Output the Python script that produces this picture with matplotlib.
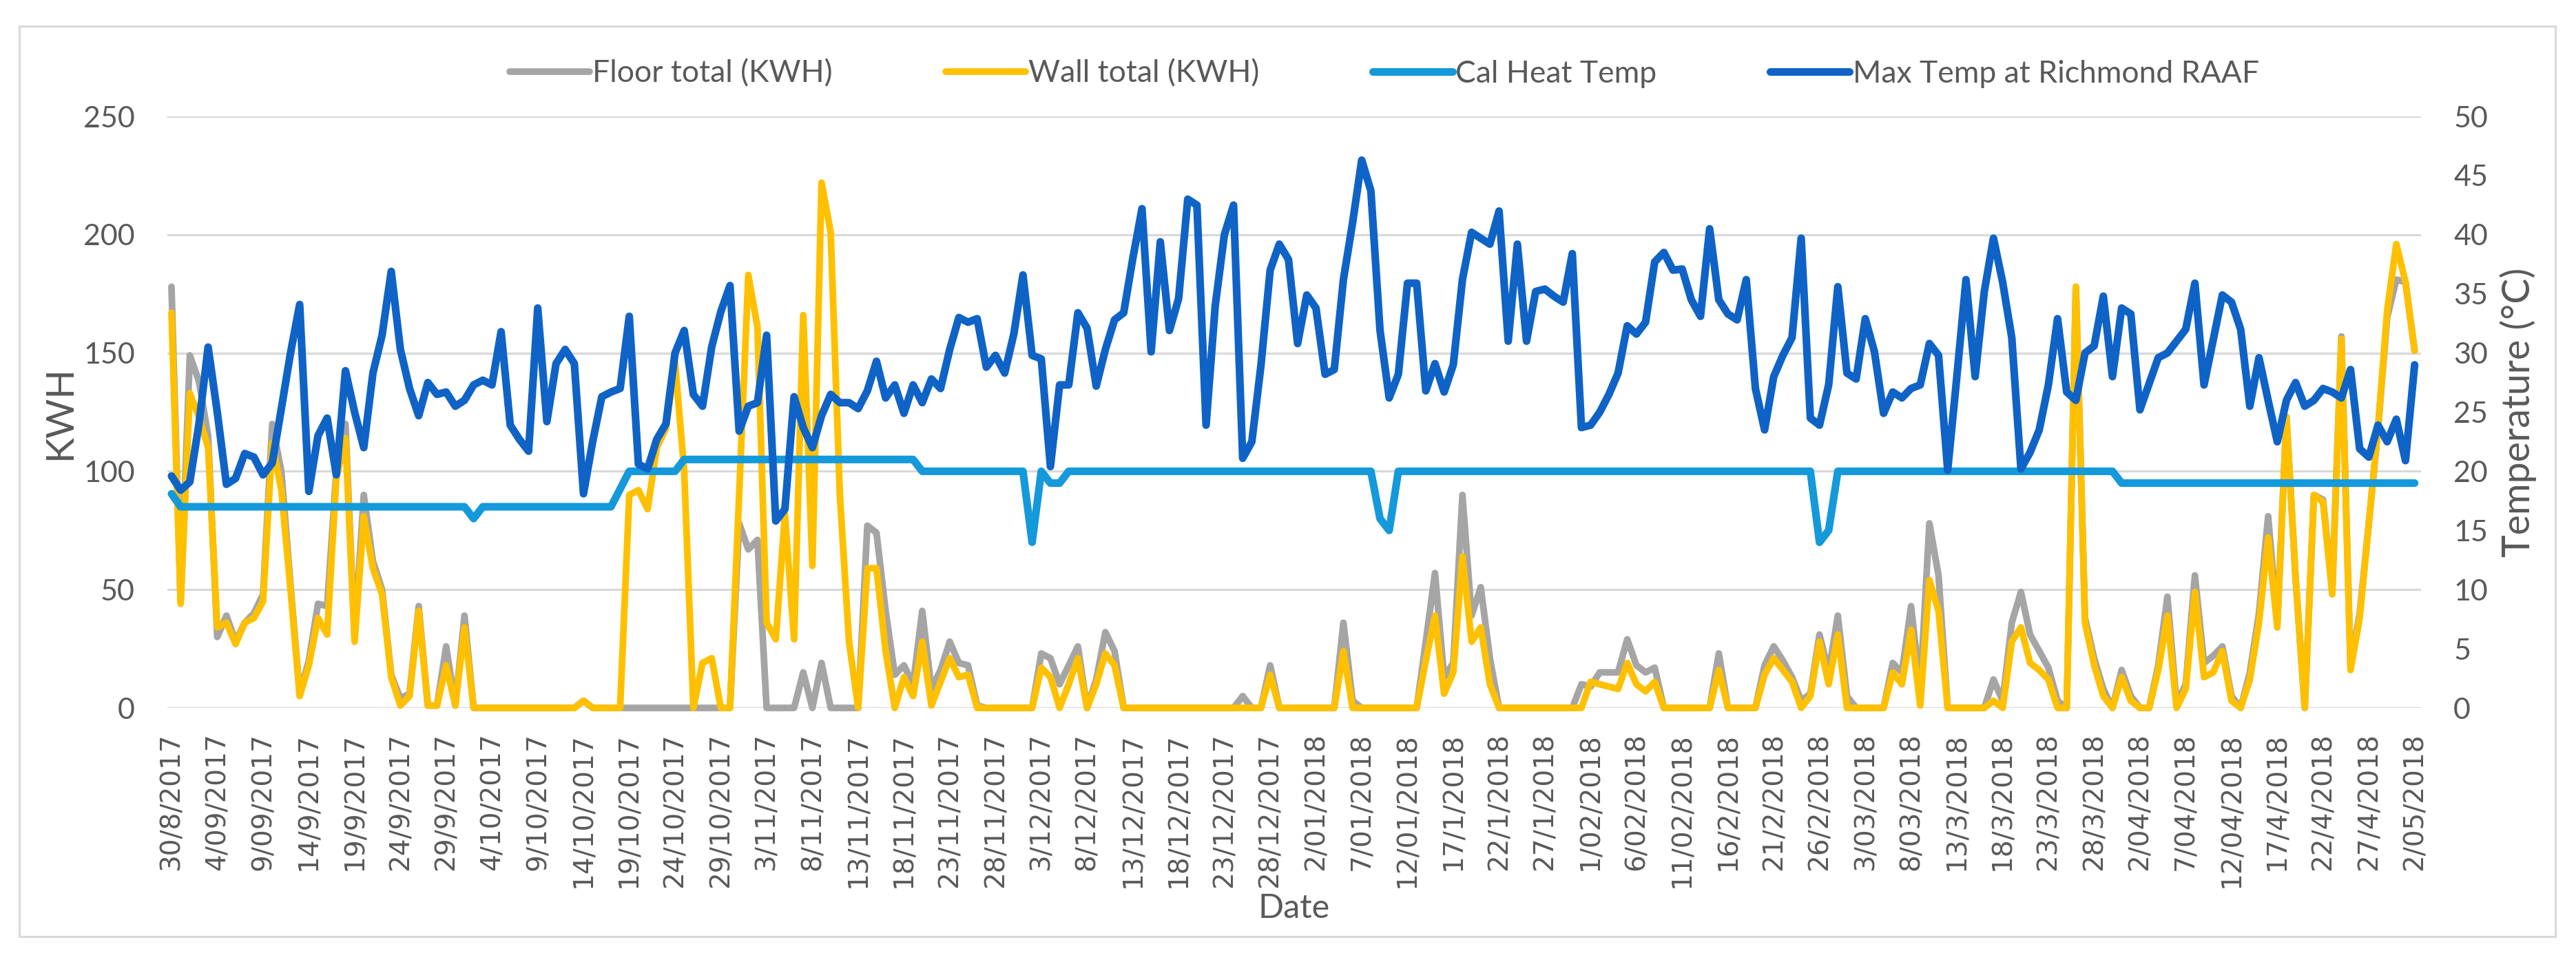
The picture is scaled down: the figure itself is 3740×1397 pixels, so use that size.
import matplotlib
matplotlib.use("Agg")
import matplotlib.pyplot as plt
from matplotlib.patches import Rectangle

# daily values, 30/8/2017 .. 2/05/2018 (246 days)
floor_total = [
    178, 45, 149, 138, 115, 30, 39, 28, 36, 40, 48, 120, 100, 52, 6, 20, 44, 43, 100, 120,
    30, 90, 62, 50, 14, 4, 6, 43, 1, 1, 26, 1, 39, 0, 0, 0, 0, 0, 0, 0,
    0, 0, 0, 0, 0, 3, 0, 0, 0, 0, 0, 0, 0, 0, 0, 0, 0, 0, 0, 0,
    0, 0, 78, 67, 71, 0, 0, 0, 0, 15, 0, 19, 0, 0, 0, 0, 77, 74, 41, 14,
    18, 10, 41, 8, 16, 28, 19, 18, 1, 0, 0, 0, 0, 0, 0, 23, 21, 10, 18, 26,
    0, 12, 32, 24, 0, 0, 0, 0, 0, 0, 0, 0, 0, 0, 0, 0, 0, 5, 0, 0,
    18, 0, 0, 0, 0, 0, 0, 0, 36, 3, 0, 0, 0, 0, 0, 0, 0, 28, 57, 13,
    19, 90, 39, 51, 21, 0, 0, 0, 0, 0, 0, 0, 0, 0, 10, 9, 15, 15, 15, 29,
    18, 15, 17, 0, 0, 0, 0, 0, 0, 23, 0, 0, 0, 0, 18, 26, 20, 13, 3, 6,
    31, 15, 39, 5, 0, 0, 0, 0, 19, 15, 43, 8, 78, 56, 0, 0, 0, 0, 0, 12,
    3, 36, 49, 31, 24, 17, 3, 0, 178, 38, 21, 8, 0, 16, 5, 0, 0, 18, 47, 2,
    10, 56, 19, 22, 26, 5, 0, 15, 40, 81, 36, 123, 55, 0, 90, 88, 50, 157, 18, 40,
    78, 118, 165, 181, 180, 151,
]

wall_total = [
    167, 44, 133, 123, 110, 34, 36, 27, 36, 38, 45, 112, 92, 50, 5, 18, 38, 31, 97, 114,
    28, 81, 59, 48, 13, 1, 5, 41, 1, 1, 18, 1, 34, 0, 0, 0, 0, 0, 0, 0,
    0, 0, 0, 0, 0, 3, 0, 0, 0, 0, 90, 92, 84, 110, 118, 146, 100, 0, 19, 21,
    0, 0, 90, 183, 161, 36, 29, 82, 29, 166, 60, 222, 201, 90, 28, 0, 59, 59, 24, 0,
    13, 5, 28, 1, 11, 21, 13, 14, 0, 0, 0, 0, 0, 0, 0, 17, 13, 0, 10, 21,
    0, 10, 23, 18, 0, 0, 0, 0, 0, 0, 0, 0, 0, 0, 0, 0, 0, 0, 0, 0,
    14, 0, 0, 0, 0, 0, 0, 0, 24, 0, 0, 0, 0, 0, 0, 0, 0, 20, 39, 6,
    15, 64, 28, 34, 10, 0, 0, 0, 0, 0, 0, 0, 0, 0, 0, 11, 10, 9, 8, 19,
    10, 7, 11, 0, 0, 0, 0, 0, 0, 16, 0, 0, 0, 0, 14, 21, 16, 11, 0, 5,
    28, 10, 31, 0, 0, 0, 0, 0, 15, 10, 33, 1, 54, 41, 0, 0, 0, 0, 0, 3,
    0, 28, 34, 19, 16, 12, 0, 0, 178, 36, 18, 5, 0, 13, 3, 0, 0, 16, 39, 0,
    8, 49, 13, 15, 24, 3, 0, 12, 36, 72, 34, 123, 55, 0, 90, 87, 48, 156, 16, 38,
    78, 118, 168, 196, 180, 151,
]

cal_heat_temp = [
    18.1, 17, 17, 17, 17, 17, 17, 17, 17, 17, 17, 17, 17, 17, 17, 17, 17, 17, 17, 17,
    17, 17, 17, 17, 17, 17, 17, 17, 17, 17, 17, 17, 17, 16, 17, 17, 17, 17, 17, 17,
    17, 17, 17, 17, 17, 17, 17, 17, 17, 18.5, 20, 20, 20, 20, 20, 20, 21, 21, 21, 21,
    21, 21, 21, 21, 21, 21, 21, 21, 21, 21, 21, 21, 21, 21, 21, 21, 21, 21, 21, 21,
    21, 21, 20, 20, 20, 20, 20, 20, 20, 20, 20, 20, 20, 20, 14, 20, 19, 19, 20, 20,
    20, 20, 20, 20, 20, 20, 20, 20, 20, 20, 20, 20, 20, 20, 20, 20, 20, 20, 20, 20,
    20, 20, 20, 20, 20, 20, 20, 20, 20, 20, 20, 20, 16, 15, 20, 20, 20, 20, 20, 20,
    20, 20, 20, 20, 20, 20, 20, 20, 20, 20, 20, 20, 20, 20, 20, 20, 20, 20, 20, 20,
    20, 20, 20, 20, 20, 20, 20, 20, 20, 20, 20, 20, 20, 20, 20, 20, 20, 20, 20, 20,
    14, 15, 20, 20, 20, 20, 20, 20, 20, 20, 20, 20, 20, 20, 20, 20, 20, 20, 20, 20,
    20, 20, 20, 20, 20, 20, 20, 20, 20, 20, 20, 20, 20, 19, 19, 19, 19, 19, 19, 19,
    19, 19, 19, 19, 19, 19, 19, 19, 19, 19, 19, 19, 19, 19, 19, 19, 19, 19, 19, 19,
    19, 19, 19, 19, 19, 19,
]

max_temp_richmond = [
    19.6, 18.4, 19.1, 24.0, 30.5, 25.0, 18.9, 19.4, 21.5, 21.2, 19.7, 20.7, 25.3, 30.0, 34.1, 18.3, 23.0, 24.5, 19.7, 28.5,
    25.0, 22.0, 28.3, 31.5, 36.9, 30.3, 27.0, 24.7, 27.5, 26.5, 26.7, 25.5, 26.0, 27.3, 27.7, 27.3, 31.8, 23.9, 22.7, 21.7,
    33.8, 24.2, 29.1, 30.3, 29.1, 18.1, 22.5, 26.3, 26.7, 27.0, 33.1, 20.6, 20.2, 22.7, 24.0, 30.0, 31.9, 26.5, 25.5, 30.5,
    33.5, 35.7, 23.4, 25.5, 25.8, 31.5, 15.8, 16.8, 26.3, 23.7, 22.0, 24.7, 26.5, 25.8, 25.8, 25.3, 26.8, 29.3, 26.2, 27.3,
    24.9, 27.3, 25.8, 27.8, 27.0, 30.3, 33.0, 32.6, 32.9, 28.8, 29.8, 28.3, 31.6, 36.6, 29.8, 29.5, 20.4, 27.3, 27.3, 33.4,
    32.1, 27.2, 30.3, 32.8, 33.4, 38.0, 42.2, 30.1, 39.4, 31.9, 34.6, 43.0, 42.5, 23.9, 34.0, 40.0, 42.5, 21.1, 22.5, 29.0,
    37.0, 39.2, 37.9, 30.8, 34.9, 33.8, 28.2, 28.6, 36.2, 41.0, 46.3, 43.7, 31.9, 26.2, 28.2, 35.9, 35.9, 26.8, 29.1, 26.7,
    29.0, 36.2, 40.2, 39.7, 39.2, 42.0, 31.0, 39.2, 31.0, 35.2, 35.4, 34.8, 34.3, 38.4, 23.7, 23.9, 25.0, 26.5, 28.3, 32.3,
    31.6, 32.6, 37.7, 38.5, 37.0, 37.1, 34.5, 33.1, 40.5, 34.5, 33.3, 32.8, 36.2, 27.0, 23.5, 28.0, 29.8, 31.3, 39.7, 24.5,
    23.9, 27.3, 35.6, 28.3, 27.8, 32.9, 30.1, 24.9, 26.7, 26.2, 27.0, 27.3, 30.8, 29.8, 20.1, 28.0, 36.2, 28.0, 35.2, 39.7,
    36.0, 31.3, 20.2, 21.6, 23.5, 27.3, 32.9, 26.7, 26.0, 30.0, 30.6, 34.8, 28.0, 33.8, 33.3, 25.2, 27.4, 29.6, 30.0, 31.0,
    32.0, 35.9, 27.3, 31.1, 34.9, 34.3, 32.0, 25.5, 29.6, 26.0, 22.5, 26.0, 27.5, 25.5, 26.0, 27.0, 26.7, 26.2, 28.6, 21.9,
    21.2, 23.9, 22.5, 24.4, 20.9, 29.0,
]

date_labels = [
    "30/8/2017", "4/09/2017", "9/09/2017", "14/9/2017", "19/9/2017", "24/9/2017", "29/9/2017",
    "4/10/2017", "9/10/2017", "14/10/2017", "19/10/2017", "24/10/2017", "29/10/2017",
    "3/11/2017", "8/11/2017", "13/11/2017", "18/11/2017", "23/11/2017", "28/11/2017",
    "3/12/2017", "8/12/2017", "13/12/2017", "18/12/2017", "23/12/2017", "28/12/2017",
    "2/01/2018", "7/01/2018", "12/01/2018", "17/1/2018", "22/1/2018", "27/1/2018",
    "1/02/2018", "6/02/2018", "11/02/2018", "16/2/2018", "21/2/2018", "26/2/2018",
    "3/03/2018", "8/03/2018", "13/3/2018", "18/3/2018", "23/3/2018", "28/3/2018",
    "2/04/2018", "7/04/2018", "12/04/2018", "17/4/2018", "22/4/2018", "27/4/2018", "2/05/2018",
]

days = list(range(len(max_temp_richmond)))
label_pos = list(range(0, len(days), 5))

text_col = "#595959"
grid_col = "#d9d9d9"
font = "Lato"

fig = plt.figure(figsize=(37.4, 13.97), dpi=100)
ax = fig.add_axes([243 / 3740, 1 - 1028 / 1397, (3515 - 243) / 3740, (1028 - 169) / 1397])
ax2 = ax.twinx()

# primary axis (KWH)
l1, = ax.plot(days, floor_total, color="#a5a5a5", lw=7, clip_on=False,
              solid_joinstyle="round", solid_capstyle="round", label="Floor total (KWH)")
l2, = ax.plot(days, wall_total, color="#ffc000", lw=7, clip_on=False,
              solid_joinstyle="round", solid_capstyle="round", label="Wall total (KWH)")
# secondary axis (temperature)
l3, = ax2.plot(days, cal_heat_temp, color="#1499db", lw=8, clip_on=False,
               solid_joinstyle="round", solid_capstyle="round", label="Cal Heat Temp")
l4, = ax2.plot(days, max_temp_richmond, color="#0f63c6", lw=8, clip_on=False,
               solid_joinstyle="round", solid_capstyle="round", label="Max Temp at Richmond RAAF")

ax.set_xlim(-0.45, 245.7)
ax.set_ylim(0, 250)
ax2.set_ylim(0, 50)
ax.set_yticks(range(0, 251, 50))
ax2.set_yticks(range(0, 51, 5))
ax.yaxis.grid(True, color=grid_col, lw=2.3)
ax.set_axisbelow(True)

ax.set_xticks(label_pos)
ax.set_xticklabels(date_labels, rotation=90, fontsize=28, family="DejaVu Sans", color=text_col)
ax.tick_params(axis="x", length=0, pad=26)
ax.tick_params(axis="y", length=0, pad=34, labelsize=31, labelcolor=text_col)
ax2.tick_params(axis="y", length=0, pad=34, labelsize=31, labelcolor=text_col)
for lab in ax.get_yticklabels() + ax2.get_yticklabels():
    lab.set_family(font)

for a in (ax, ax2):
    for s in a.spines.values():
        s.set_visible(False)

ax.set_ylabel("KWH", fontsize=40, family=font, color=text_col, labelpad=6)
ax2.set_ylabel("Temperature (°C)", fontsize=40, family=font, color=text_col, labelpad=12)
ax.set_xlabel("Date", fontsize=35, family=font, color=text_col, labelpad=6)

fig.legend(handles=[l1, l2, l3, l4], loc="center", bbox_to_anchor=(2010 / 3740, 1 - 107 / 1397),
           ncol=4, frameon=False, prop={"family": font, "size": 32}, labelcolor=text_col,
           handlelength=2.6, handletextpad=0.1, columnspacing=3.7)

fig.patches.append(Rectangle((28 / 3740, 1 - 1360 / 1397), (3710 - 28) / 3740, (1360 - 38) / 1397,
                             transform=fig.transFigure, fill=False, edgecolor=grid_col, lw=2.2))

fig.savefig("out.png", dpi=100)
